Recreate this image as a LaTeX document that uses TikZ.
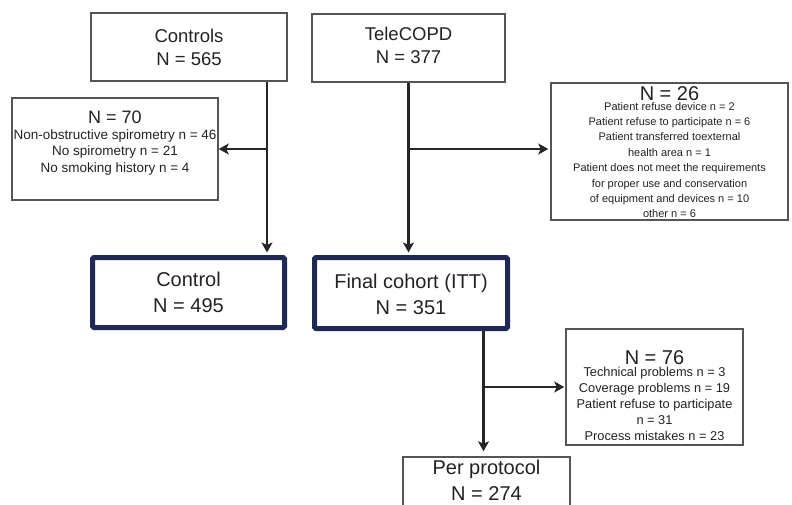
\documentclass[tikz,border=0pt]{standalone}
\usepackage{fontspec}
\setmainfont{Liberation Sans}
\usetikzlibrary{arrows.meta,positioning,calc}

\definecolor{boxgray}{HTML}{555555}
\definecolor{navy}{HTML}{1E2A55}
\definecolor{inkgray}{HTML}{222222}

\begin{document}
\begin{tikzpicture}[
    x=1pt, y=-1pt,
    box/.style={draw=boxgray, line width=1.5pt, inner sep=0pt, align=center, text=inkgray},
    bigbox/.style={draw=navy, line width=5pt, rounded corners=1.5pt, inner sep=0pt, align=center,
      text=inkgray, font=\fontsize{20}{26}\selectfont},
    line/.style={line width=2.2pt, draw=black!85},
    arrow/.style={line, -{Stealth[length=10pt,width=11pt,inset=2.5pt]}},
  ]
  \useasboundingbox (0,0) rectangle (792,504);
  \clip (0,0) rectangle (792,504);

  % top row
  \node[box, minimum width=196pt, minimum height=68pt, font=\fontsize{18.5}{22.3}\selectfont]
    (controls) at (189,47) {\rule{0pt}{29.7pt}Controls\\N = 565\rule[-16pt]{0pt}{16pt}};
  \node[box, minimum width=193pt, minimum height=68pt, font=\fontsize{18.5}{23.3}\selectfont]
    (tele) at (408.5,48) {\rule{0pt}{26pt}TeleCOPD\\N = 377\rule[-18.7pt]{0pt}{18.7pt}};

  % exclusions
  \node[box, minimum width=206pt, minimum height=102pt, font=\fontsize{13.5}{16.5}\selectfont]
    (ex70) at (115,149) {\rule{0pt}{25pt}{\fontsize{18}{18}\selectfont N = 70}\\[-0.5pt]
      Non-obstructive spirometry n = 46\\
      No spirometry n = 21\\
      No smoking history n = 4\rule[-27.5pt]{0pt}{27.5pt}};
  \node[box, minimum width=237pt, minimum height=137pt, font=\fontsize{11}{15.4}\selectfont]
    (ex26) at (669.5,151.5) {\rule{0pt}{17pt}{\fontsize{20}{20}\selectfont N = 26}\\[-5.4pt]
      Patient refuse device n = 2\\
      Patient refuse to participate n = 6\\
      Patient transferred toexternal\\
      health area n = 1\\
      Patient does not meet the requirements\\
      for proper use and conservation\\
      of equipment and devices n = 10\\
      other n = 6\rule[-2pt]{0pt}{2pt}};

  % cohorts
  \node[bigbox, minimum width=192pt, minimum height=70pt]
    (ctl) at (188.5,292.5) {\rule{0pt}{29.2pt}Control\\N = 495\rule[-14.8pt]{0pt}{14.8pt}};
  \node[bigbox, minimum width=193pt, minimum height=71pt]
    (fin) at (411,293) {\rule{0pt}{30.5pt}Final cohort (ITT)\\N = 351\rule[-14.5pt]{0pt}{14.5pt}};

  \node[box, minimum width=177pt, minimum height=116pt, font=\fontsize{12.8}{16}\selectfont]
    (ex76) at (654.5,387) {\rule{0pt}{35.5pt}{\fontsize{20}{20}\selectfont N = 76}\\[-4.5pt]
      Technical problems n = 3\\
      Coverage problems n = 19\\
      Patient refuse to participate\\
      n = 31\\
      Process mistakes n = 23\rule[-5pt]{0pt}{5pt}};
  \node[box, minimum width=167pt, minimum height=73pt, font=\fontsize{20}{26}\selectfont]
    (pp) at (486.5,493.5) {\rule{0pt}{17pt}Per protocol\\N = 274\rule[-30pt]{0pt}{30pt}};

  % connectors
  \coordinate (b1) at (267,149);
  \coordinate (b2) at (408.5,149);
  \coordinate (b3) at (483.5,387);

  \draw[arrow, shorten >=2.5pt] (controls.south -| b1) -- (ctl.north -| b1);
  \draw[arrow] (b1) -- (ex70.east |- b1);
  \draw[arrow, shorten >=2.5pt] (tele.south) -- (tele.south |- fin.north);
  \draw[arrow, shorten >=2pt] (b2) -- (ex26.west |- b2);
  \draw[arrow, shorten >=5pt] (fin.south -| b3) -- (pp.north -| b3);
  \draw[arrow, shorten >=1pt] (b3) -- (ex76.west);
\end{tikzpicture}
\end{document}
